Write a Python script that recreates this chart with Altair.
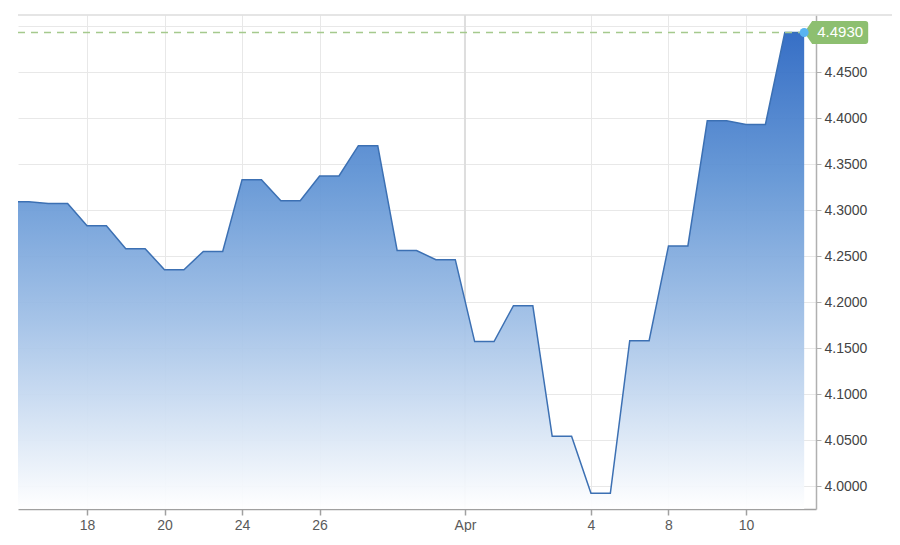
import altair as alt
import pandas as pd

# Business-day index (0 = Fri Mar 14, 2025) and the daily value
day_index = [0, 1, 2, 3, 4, 5, 6, 7, 8, 9, 10, 11, 12, 13, 14, 15, 16, 17, 18, 19, 20]
day_value = [4.3090, 4.3070, 4.2830, 4.2580, 4.2350, 4.2550, 4.3330, 4.3100,
             4.3370, 4.3700, 4.2560, 4.2460, 4.1570, 4.1960, 4.0540, 3.9920,
             4.1580, 4.2610, 4.3970, 4.3930, 4.4930]

# x-axis ticks (business-day index) and their labels
tick_pos = [2, 4, 6, 8, 11.75, 15, 17, 19]
tick_lbl = ["18", "20", "24", "26", "Apr", "4", "8", "10"]

y_ticks = [4.0, 4.05, 4.1, 4.15, 4.2, 4.25, 4.3, 4.35, 4.4, 4.45, 4.5]
last_value = 4.4930
last_pos = 20.5
month_pos = 11.75

x_dom = [0.22, 20.805]
y_dom = [3.975, 4.512]

# Each day is held flat for half a day, then moves to the next day's value
rows = []
for d, v in zip(day_index, day_value):
    rows.append({"x": d, "v": v, "base": y_dom[0]})
    rows.append({"x": d + 0.5, "v": v, "base": y_dom[0]})
df = pd.DataFrame(rows)

xs = alt.Scale(domain=x_dom, nice=False, zero=False)
ys = alt.Scale(domain=y_dom, nice=False, zero=False)

label_expr = ""
for p, l in zip(tick_pos, tick_lbl):
    label_expr += f"datum.value == {p} ? '{l}' : "
label_expr += "''"

FONT = "Liberation Sans"

x_axis = alt.Axis(values=tick_pos, labelExpr=label_expr, grid=True, gridColor="#e8e8e8",
                  gridWidth=1, domainColor="#a0a0a0", domainWidth=1.5, tickColor="#a0a0a0",
                  tickSize=6, tickWidth=1.5, labelFont=FONT, labelFontSize=14,
                  labelColor="#5a5a5a", labelPadding=3, title=None)
y_axis = alt.Axis(orient="right", values=y_ticks, format=".4f",
                  labelExpr="datum.value > 4.47 ? '' : datum.label",
                  grid=True, gridColor="#e8e8e8", gridWidth=1, domainColor="#b0b0b0",
                  domainWidth=1.5, tickColor="#b0b0b0", tickSize=5, labelFont=FONT,
                  labelFontSize=14, labelColor="#444444", labelPadding=3, title=None)


def X(field):
    return alt.X(field, scale=xs, axis=x_axis)


def Y(field):
    return alt.Y(field, scale=ys, axis=y_axis)


gradient = alt.Gradient(
    gradient="linear",
    stops=[alt.GradientStop(color="#2a66c2", offset=0),
           alt.GradientStop(color="#5f93d4", offset=0.3),
           alt.GradientStop(color="#9fbfe6", offset=0.6),
           alt.GradientStop(color="#ffffff", offset=1)],
    x1=0, x2=0, y1=0, y2=1,
)

month_df = pd.DataFrame({"x": [month_pos]})
month_rule = alt.Chart(month_df).mark_rule(color="#dedede", strokeWidth=2).encode(
    x=X("x:Q"),
)

area = alt.Chart(df).mark_area(color=gradient, clip=True, opacity=0.94).encode(
    x=X("x:Q"),
    y=Y("v:Q"),
    y2=alt.Y2("base:Q"),
)
line = alt.Chart(df).mark_line(color="#3c70b3", strokeWidth=1.5, clip=True).encode(
    x=X("x:Q"),
    y=Y("v:Q"),
)

top_rule = alt.Chart(month_df).mark_rule(color="#dcdcdc", strokeWidth=1.5).encode(
    x=alt.value(0), x2=alt.value(874), y=alt.value(0),
)

last_df = pd.DataFrame({"x0": [x_dom[0]], "x": [last_pos], "v": [last_value],
                        "t": [f"{last_value:.4f}"]})
last_rule = alt.Chart(last_df).mark_rule(color="#a5c98d", strokeWidth=1.4,
                                         strokeDash=[7, 6]).encode(
    x=X("x0:Q"),
    x2=alt.X2("x:Q"),
    y=Y("v:Q"),
)

box_path = ("M0,0 L0.25,-0.36 L1.91,-0.36 Q2,-0.36 2,-0.27 L2,0.27 "
            "Q2,0.36 1.91,0.36 L0.25,0.36 Z")
label_box = alt.Chart(last_df).mark_point(shape=box_path, size=4096, filled=True,
                                          color="#8dbf70", opacity=1, strokeWidth=0).encode(
    x=X("x:Q"),
    y=Y("v:Q"),
)
label_text = alt.Chart(last_df).mark_text(color="white", font=FONT, fontSize=15,
                                          align="center", baseline="middle", dx=36).encode(
    x=X("x:Q"),
    y=Y("v:Q"),
    text="t:N",
)
last_point = alt.Chart(last_df).mark_point(shape="circle", size=80, filled=True,
                                           color="#58b4f2", opacity=1).encode(
    x=X("x:Q"),
    y=Y("v:Q"),
)

chart = alt.layer(
    month_rule, area, line, top_rule, last_rule, label_box, label_text, last_point
).properties(
    width=798, height=494,
    autosize=alt.AutoSizeParams(type="none"),
    padding={"left": 10, "top": 7, "right": 76, "bottom": 23},
).configure_view(stroke=None)

chart.save("out.html", embed_options={"renderer": "svg", "actions": False})
